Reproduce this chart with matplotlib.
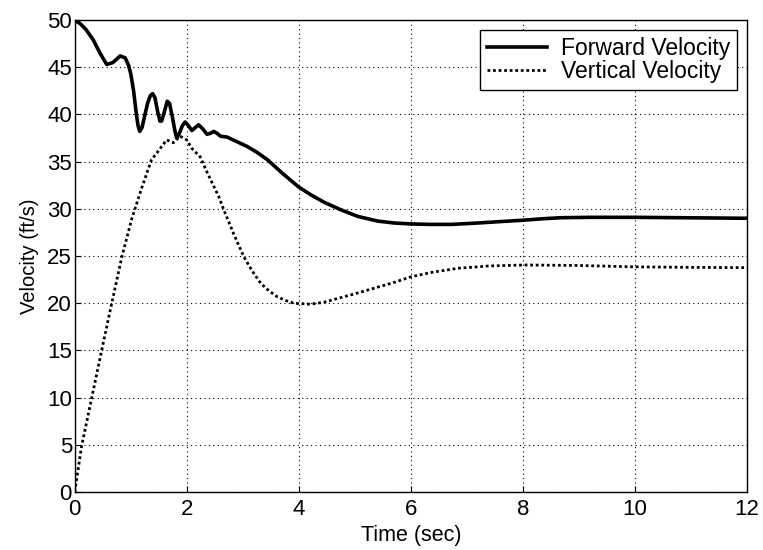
import matplotlib
matplotlib.use("Agg")
import matplotlib.pyplot as plt

plt.rcParams['font.family'] = ['Liberation Sans', 'DejaVu Sans']

# forward velocity (ft/s) vs time (sec)
t_fwd = [0.0, 0.1, 0.2, 0.33, 0.45, 0.57, 0.68, 0.81, 0.9, 0.96, 1.0, 1.05, 1.1,
         1.13, 1.16, 1.2, 1.25, 1.3, 1.35, 1.39, 1.43, 1.48, 1.52, 1.55, 1.6, 1.65,
         1.69, 1.74, 1.79, 1.82, 1.86, 1.92, 1.97, 2.03, 2.09, 2.15, 2.21, 2.28,
         2.36, 2.42, 2.48, 2.54, 2.6, 2.72, 2.9, 3.08, 3.25, 3.44, 3.7, 4.0, 4.21,
         4.45, 4.75, 5.05, 5.41, 5.7, 6.0, 6.35, 6.72, 7.2, 7.6, 8.02, 8.35, 8.69,
         9.2, 10.0, 11.0, 12.0]
v_fwd = [50.0, 49.6, 49.0, 47.9, 46.5, 45.3, 45.5, 46.2, 46.0, 45.2, 44.3, 42.5, 40.0,
         38.8, 38.2, 38.6, 39.9, 41.2, 42.0, 42.2, 41.8, 40.3, 39.3, 39.3, 40.3, 41.4,
         41.2, 39.8, 38.2, 37.5, 37.9, 38.8, 39.2, 38.8, 38.3, 38.6, 38.9, 38.5,
         37.9, 38.0, 38.2, 38.0, 37.7, 37.6, 37.1, 36.6, 36.0, 35.2, 33.8, 32.3, 31.5,
         30.7, 29.9, 29.2, 28.7, 28.5, 28.4, 28.35, 28.35, 28.5, 28.65, 28.8, 28.95, 29.06,
         29.1, 29.1, 29.05, 29.0]

# vertical velocity (ft/s) vs time (sec)
t_vert = [0.0, 0.12, 0.3, 0.48, 0.66, 0.84, 1.02, 1.2, 1.37, 1.5, 1.64, 1.76, 1.88,
          2.0, 2.09, 2.24, 2.36, 2.57, 2.66, 2.84, 3.02, 3.17, 3.32, 3.47, 3.61,
          3.76, 3.91, 4.2, 4.45, 4.69, 5.0, 5.35, 5.7, 6.0, 6.4, 6.84, 7.4, 8.02,
          9.0, 10.0, 11.0, 12.0]
v_vert = [0.0, 4.8, 9.9, 15.0, 20.0, 24.9, 29.0, 32.3, 35.2, 36.2, 37.3, 37.0, 37.7,
          37.3, 36.4, 35.5, 33.9, 31.3, 29.9, 27.3, 24.9, 23.4, 22.1, 21.3, 20.7,
          20.3, 20.0, 19.9, 20.1, 20.5, 21.0, 21.6, 22.2, 22.8, 23.3, 23.7, 23.95, 24.05,
          24.0, 23.85, 23.8, 23.77]

fig = plt.figure(figsize=(7.63, 5.5), dpi=100)
ax = fig.add_axes([0.098, 0.1055, 0.881, 0.858])

ax.plot(t_fwd, v_fwd, color='black', linewidth=2.6, label='Forward Velocity',
        solid_joinstyle='round')
ax.plot(t_vert, v_vert, color='black', linewidth=2.0, linestyle=(0, (1, 1)),
        label='Vertical Velocity')

ax.set_xlim(0, 12)
ax.set_ylim(0, 50)
ax.set_xticks(range(0, 13, 2))
ax.set_yticks(range(0, 51, 5))
ax.tick_params(labelsize=16, direction='in', length=4, color='black')
ax.tick_params(axis='x', pad=5)
ax.tick_params(axis='y', pad=2)
ax.grid(True, color='black', linestyle=(0, (1, 3)), linewidth=0.8)
for s in ax.spines.values():
    s.set_linewidth(1.0)

ax.set_xlabel('Time (sec)', fontsize=15.5, labelpad=4)
ax.set_ylabel('Velocity (ft/s)', fontsize=14.5, labelpad=6)

leg = ax.legend(loc='upper right', fontsize=16.5, fancybox=False, framealpha=1,
                edgecolor='black', borderpad=0.3, labelspacing=0.0,
                handlelength=2.6, handletextpad=0.6, borderaxespad=0.45)
leg.get_frame().set_linewidth(1.0)

fig.savefig('out.png', dpi=100)
